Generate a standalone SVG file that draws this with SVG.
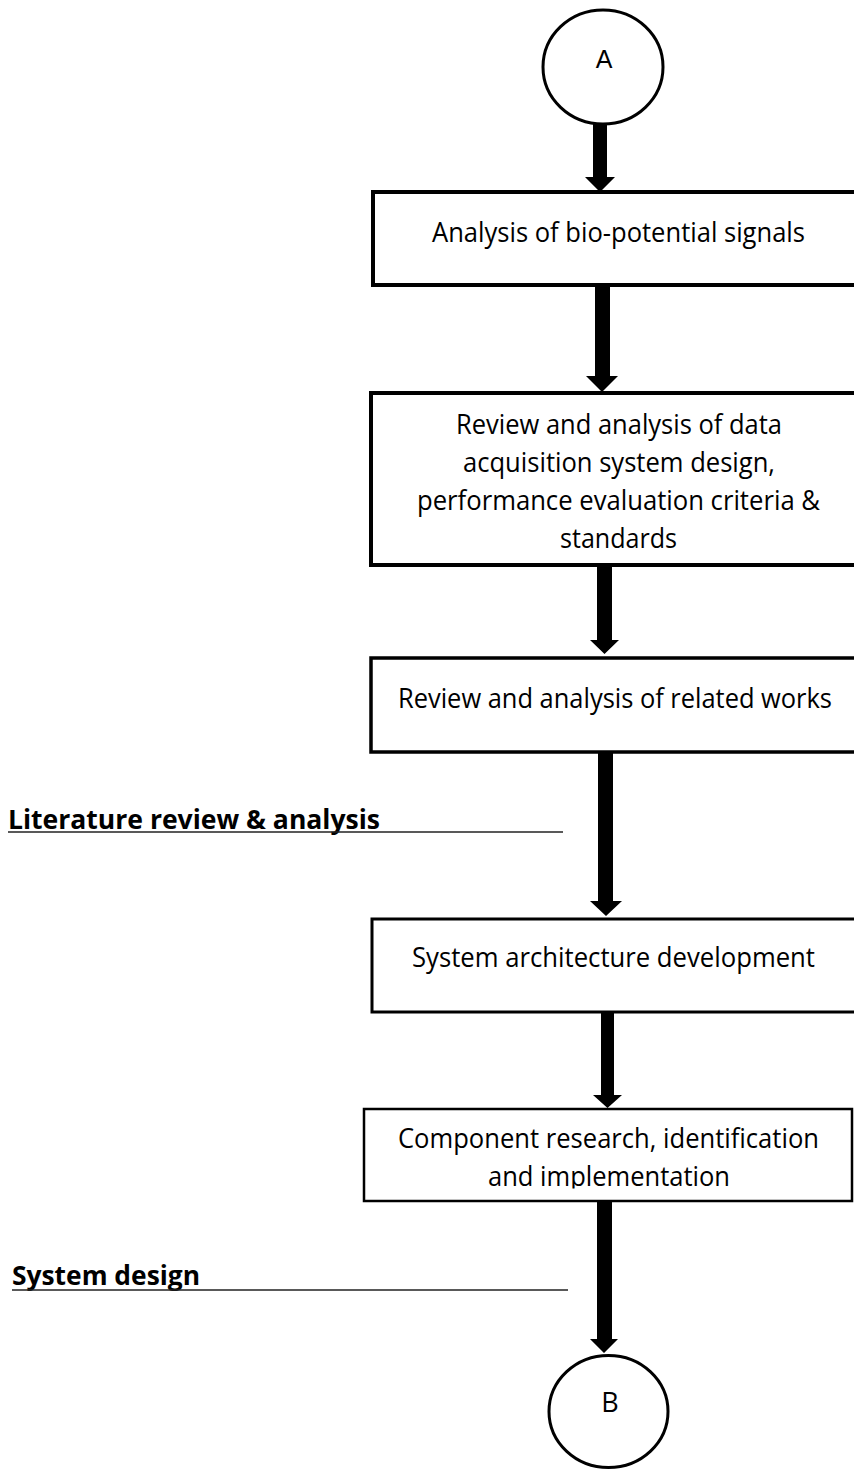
<svg xmlns="http://www.w3.org/2000/svg" width="854" height="1469" viewBox="0 0 854 1469">
<style>
.box{fill:#fff;stroke:#000}
.t{font-family:"Open Sans","Noto Sans","Liberation Sans",sans-serif;font-size:27px;fill:#000}
.lbl{font-family:"Open Sans","Noto Sans","Liberation Sans",sans-serif;font-size:26px;font-weight:bold;fill:#000}
.circ{fill:#fff;stroke:#000;stroke-width:3}
.arr{fill:#000;stroke:none}
.ul{stroke:#222;stroke-width:1.6}
</style>
<defs>
<clipPath id="clip5"><rect x="0" y="1100" width="854" height="88.5"/></clipPath>
</defs>
<rect width="854" height="1469" fill="#fff"/>
<g id="nodeA">
<ellipse class="circ" cx="603" cy="67" rx="60" ry="57"/>
<text x="604" y="68" font-family="Liberation Sans,Arial,sans-serif" font-size="25" text-anchor="middle">A</text>
</g>
<g id="box1">
<rect class="box" x="373" y="192" width="484" height="93" stroke-width="4"/>
<text class="t" x="432" y="242" textLength="373" lengthAdjust="spacingAndGlyphs">Analysis of bio-potential signals</text>
</g>
<g id="box2">
<rect class="box" x="371" y="393" width="486" height="172" stroke-width="4"/>
<text class="t" x="456" y="434" textLength="326" lengthAdjust="spacingAndGlyphs">Review and analysis of data</text>
<text class="t" x="463" y="472" textLength="312" lengthAdjust="spacingAndGlyphs">acquisition system design,</text>
<text class="t" x="417" y="510" textLength="403" lengthAdjust="spacingAndGlyphs">performance evaluation criteria &amp;</text>
<text class="t" x="560" y="548" textLength="117" lengthAdjust="spacingAndGlyphs">standards</text>
</g>
<g id="box3">
<rect class="box" x="371" y="658" width="486" height="94" stroke-width="3.5"/>
<text class="t" x="398" y="708" textLength="434" lengthAdjust="spacingAndGlyphs">Review and analysis of related works</text>
</g>
<g id="box4">
<rect class="box" x="372" y="919" width="485" height="93" stroke-width="3"/>
<text class="t" x="412" y="967" textLength="403" lengthAdjust="spacingAndGlyphs">System architecture development</text>
</g>
<g id="box5">
<rect class="box" x="364" y="1109" width="488" height="92" stroke-width="2.5"/>
<text class="t" x="398" y="1148" textLength="421" lengthAdjust="spacingAndGlyphs">Component research, identification</text>
<text class="t" x="488" y="1186" textLength="242" lengthAdjust="spacingAndGlyphs" clip-path="url(#clip5)">and implementation</text>
</g>
<g id="nodeB">
<ellipse class="circ" cx="608.5" cy="1411.5" rx="59.5" ry="56"/>
<text class="t" x="610" y="1412" font-size="23" text-anchor="middle">B</text>
</g>
<g id="label1">
<text class="lbl" x="8" y="829" textLength="372" lengthAdjust="spacingAndGlyphs">Literature review &amp; analysis</text>
<line class="ul" x1="8" y1="832" x2="563" y2="832"/>
</g>
<g id="label2">
<text class="lbl" x="12" y="1285" textLength="188" lengthAdjust="spacingAndGlyphs">System design</text>
<line class="ul" x1="12" y1="1290" x2="568" y2="1290"/>
</g>
<g id="connectors">
<polygon class="arr" points="593,124 607,124 607,177 615,177 600,192 585,177 593,177"/>
<polygon class="arr" points="595,284 610,284 610,376 618,376 602,392 586,376 595,376"/>
<polygon class="arr" points="597,565 612,565 612,640 619,640 604.5,654 590,640 597,640"/>
<polygon class="arr" points="598,752 613,752 613,901 622,901 606,916 590,901 598,901"/>
<polygon class="arr" points="601,1012 614,1012 614,1095 622,1095 607.5,1108 593,1095 601,1095"/>
<polygon class="arr" points="597,1201 612,1201 612,1339 618,1339 604,1353 590,1339 597,1339"/>
</g>
</svg>
